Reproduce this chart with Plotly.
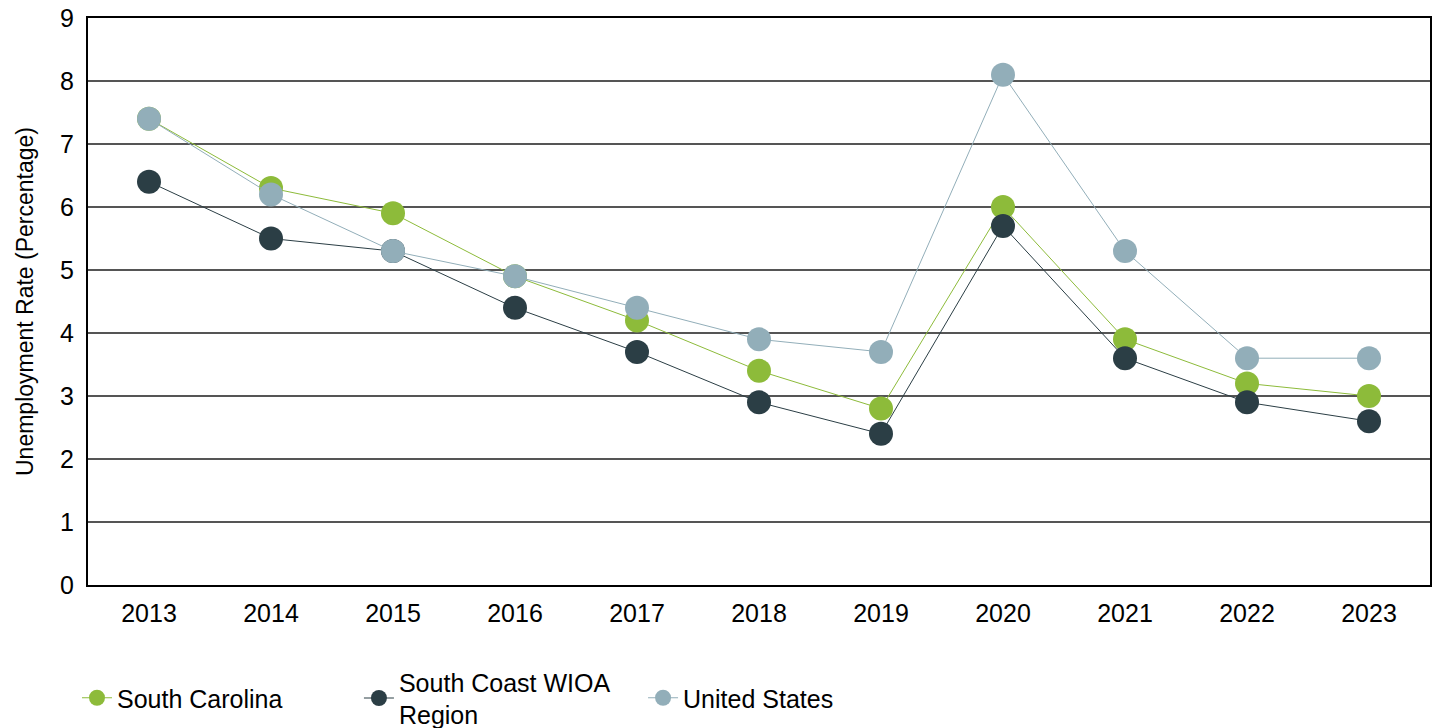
import plotly.graph_objects as go

years = ["2013", "2014", "2015", "2016", "2017", "2018", "2019", "2020", "2021", "2022", "2023"]
south_carolina = [7.4, 6.3, 5.9, 4.9, 4.2, 3.4, 2.8, 6.0, 3.9, 3.2, 3.0]
south_coast = [6.4, 5.5, 5.3, 4.4, 3.7, 2.9, 2.4, 5.7, 3.6, 2.9, 2.6]
united_states = [7.4, 6.2, 5.3, 4.9, 4.4, 3.9, 3.7, 8.1, 5.3, 3.6, 3.6]

series = [
    ("South Carolina", south_carolina, "#8DBB3A", "legend", -0.0082),
    ("South Coast WIOA<br>Region", south_coast, "#2B3E45", "legend2", 0.2019),
    ("United States", united_states, "#92AEB9", "legend3", 0.4136),
]

fig = go.Figure()
legends = {}
for name, vals, color, leg, lx in series:
    fig.add_trace(go.Scatter(
        x=years, y=vals, name=name, mode="lines+markers",
        line=dict(color=color, width=1),
        marker=dict(color=color, size=24),
        legend=leg,
    ))
    legends[leg] = dict(orientation="h", x=lx, xanchor="left",
                        yref="container", y=0.0412, yanchor="middle",
                        font=dict(size=25), valign="middle", itemsizing="trace",
                        bgcolor="rgba(0,0,0,0)")

fig.update_layout(
    width=1434, height=728,
    margin=dict(l=88, r=4, t=18, b=143),
    plot_bgcolor="white", paper_bgcolor="white",
    font=dict(family="Liberation Sans, Arial, sans-serif", color="black", size=25),
    showlegend=True,
    xaxis=dict(type="category", range=[-0.5, 10.5], showgrid=False, automargin=False,
               showline=True, linecolor="black", linewidth=2, mirror=True,
               ticks="", tickfont=dict(size=25), ticklabelstandoff=5),
    yaxis=dict(range=[0, 9], dtick=1, showgrid=True, gridcolor="#555555", gridwidth=2,
               showline=True, linecolor="black", linewidth=2, mirror=True, automargin=False,
               ticks="", tickfont=dict(size=25), zeroline=False, ticklabelstandoff=7,
               title=dict(text="Unemployment Rate (Percentage)", font=dict(size=23), standoff=20)),
    **legends,
)

fig.write_html("out.html", config={"displayModeBar": False},
               post_script="document.body.style.margin='0';document.body.style.overflow='hidden';")
